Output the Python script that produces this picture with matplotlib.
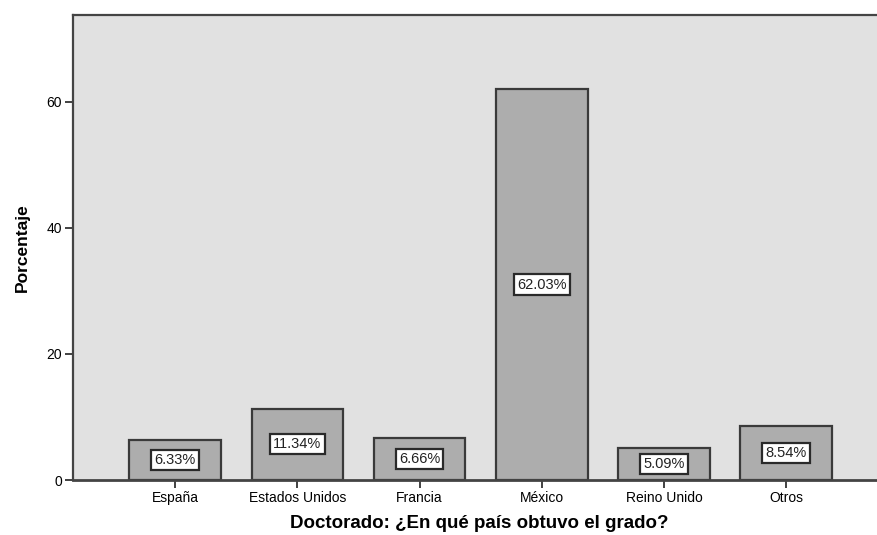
import matplotlib
matplotlib.use("Agg")
import matplotlib.pyplot as plt

plt.rcParams["font.family"] = ["Liberation Sans", "DejaVu Sans"]

categories = ["España", "Estados Unidos", "Francia", "México", "Reino Unido", "Otros"]
values = [6.33, 11.34, 6.66, 62.03, 5.09, 8.54]
yticks = [0, 20, 40, 60]

fig = plt.figure(figsize=(8.77, 5.35), dpi=100)
ax = fig.add_axes([73/877, (535-480)/535, (877-73)/877 + 0.01, (480-15)/535])
ax.set_facecolor("#e1e1e1")
x = list(range(len(categories)))
ax.bar(x, values, width=0.75, color="#adadad", edgecolor="#3a3a3a", linewidth=1.6, zorder=2)
for xi, v in zip(x, values):
    ax.text(xi, v / 2, f"{v:.2f}%", ha="center", va="center", fontsize=10.5, color="#222222",
            bbox=dict(boxstyle="square,pad=0.22", facecolor="white", edgecolor="#2a2a2a", linewidth=1.6),
            zorder=3)
ax.set_xlim(-0.836, 5.75 + 0.01 * 877 / 122 * 0.9)
ax.set_ylim(0, 73.8)
ax.set_xticks(x)
ax.set_xticklabels(categories, fontsize=10)
ax.set_yticks(yticks)
ax.set_yticklabels([str(t) for t in yticks], fontsize=10)
ax.tick_params(axis="both", direction="out", length=6, width=1.3, color="#333333", pad=2)
for s in ["top", "left", "bottom"]:
    ax.spines[s].set_color("#444444")
    ax.spines[s].set_linewidth(1.6)
ax.spines["right"].set_visible(False)
ax.spines["bottom"].set_linewidth(2)
ax.set_ylabel("Porcentaje", fontsize=12.5, fontweight="bold", labelpad=12)
ax.set_xlabel("Doctorado: ¿En qué país obtuvo el grado?", fontsize=13.5, fontweight="bold", labelpad=7)
fig.savefig("out.png", dpi=100)
